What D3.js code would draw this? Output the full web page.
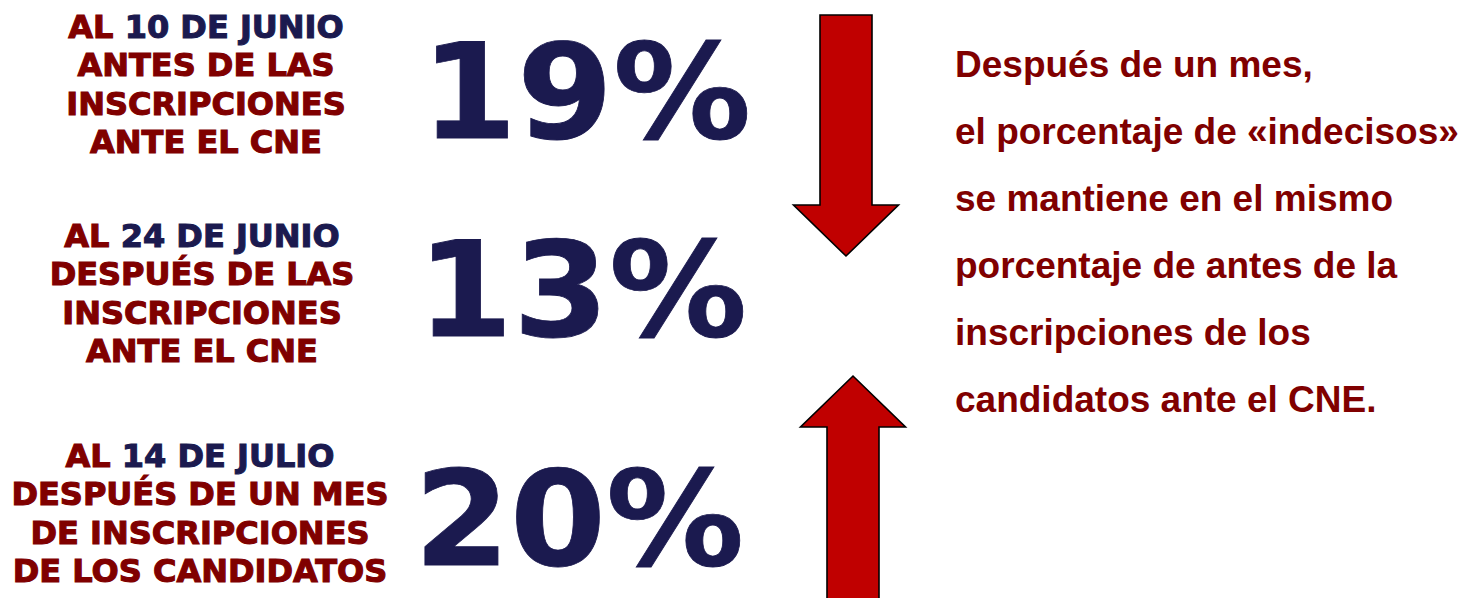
<!DOCTYPE html>
<html>
<head>
<meta charset="utf-8">
<script src="https://cdn.jsdelivr.net/npm/d3@7"></script>
<style>
  html, body { margin: 0; padding: 0; background: #ffffff; }
  svg { display: block; }
</style>
</head>
<body>
<svg id="chart" width="1462" height="598"></svg>
<script>
// ---- data ----
const dates = ["AL 10 DE JUNIO", "AL 24 DE JUNIO", "AL 14 DE JULIO"];
const descriptions = [
  ["ANTES DE LAS", "INSCRIPCIONES", "ANTE EL CNE"],
  ["DESPUÉS DE LAS", "INSCRIPCIONES", "ANTE EL CNE"],
  ["DESPUÉS DE UN MES", "DE INSCRIPCIONES", "DE LOS CANDIDATOS"]
];
const values = [19, 13, 20];
const commentary = [
  "Después de un mes,",
  "el porcentaje de «indecisos»",
  "se mantiene en el mismo",
  "porcentaje de antes de la",
  "inscripciones de los",
  "candidatos ante el CNE."
];

// ---- styles ----
const maroon = "#800000";
const navy = "#1b1a4f";
const arrowRed = "#c00000";

const svg = d3.select("#chart");

// row positions (baseline of first label line)
const rowY = d3.scaleOrdinal().domain(dates).range([38, 247, 467]);
const labelX = d3.scaleOrdinal().domain(dates).range([206, 202, 200]);
const lineStep = 38.3;

const rows = svg.selectAll("g.row")
  .data(dates.map((d, i) => ({ date: d, desc: descriptions[i], value: values[i] })))
  .join("g").attr("class", "row");

// date line: "AL" maroon, rest navy
rows.append("text")
  .attr("x", d => labelX(d.date))
  .attr("y", d => rowY(d.date))
  .attr("text-anchor", "middle")
  .attr("font-family", "DejaVu Sans")
  .attr("font-weight", "bold")
  .attr("font-size", 32)
  .attr("stroke-width", 1.1)
  .each(function (d) {
    const t = d3.select(this);
    const parts = d.date.split(" ");
    t.append("tspan").text(parts[0]).attr("fill", maroon).attr("stroke", maroon);
    t.append("tspan").text(" " + parts.slice(1).join(" ")).attr("fill", navy).attr("stroke", navy);
  });

// description lines
rows.each(function (d) {
  d3.select(this).selectAll("text.desc")
    .data(d.desc)
    .join("text")
    .attr("class", "desc")
    .attr("x", labelX(d.date))
    .attr("y", (s, j) => rowY(d.date) + (j + 1) * lineStep)
    .attr("text-anchor", "middle")
    .attr("font-family", "DejaVu Sans")
    .attr("font-weight", "bold")
    .attr("font-size", 32)
    .attr("fill", maroon)
    .attr("stroke", maroon)
    .attr("stroke-width", 1.1)
    .text(s => s);
});

// big percentages
const numOffset = d3.scaleOrdinal().domain(dates).range([100, 89, 98]);
const numX = d3.scaleOrdinal().domain(dates).range([586, 582, 579]);
rows.append("g")
  .attr("transform", d => `translate(${numX(d.date)},${rowY(d.date) + numOffset(d.date)}) scale(1.045,1)`)
  .append("text")
  .attr("x", 0)
  .attr("y", 0)
  .attr("text-anchor", "middle")
  .attr("font-family", "DejaVu Sans")
  .attr("font-weight", "bold")
  .attr("font-size", 132)
  .attr("fill", navy)
  .attr("stroke", navy)
  .attr("stroke-width", 0.8)
  .text(d => d3.format("d")(d.value) + "%");

// arrows
function arrowPath(cx, yBase, yTip, shaftHalf, headHalf, yNeck) {
  const p = d3.path();
  p.moveTo(cx - shaftHalf, yBase);
  p.lineTo(cx - shaftHalf, yNeck);
  p.lineTo(cx - headHalf, yNeck);
  p.lineTo(cx, yTip);
  p.lineTo(cx + headHalf, yNeck);
  p.lineTo(cx + shaftHalf, yNeck);
  p.lineTo(cx + shaftHalf, yBase);
  p.closePath();
  return p.toString();
}
const arrows = [
  { cx: 846, base: 15, tip: 256, neck: 205, shaft: 26, head: 52.5 },
  { cx: 853, base: 605, tip: 376, neck: 427, shaft: 26, head: 52.5 }
];
svg.selectAll("path.arrow")
  .data(arrows)
  .join("path")
  .attr("class", "arrow")
  .attr("d", a => arrowPath(a.cx, a.base, a.tip, a.shaft, a.head, a.neck))
  .attr("fill", arrowRed)
  .attr("stroke", "#000")
  .attr("stroke-width", 1.6)
  .attr("stroke-linejoin", "miter");

// commentary text
svg.selectAll("text.comment")
  .data(commentary)
  .join("text")
  .attr("class", "comment")
  .attr("x", 955)
  .attr("y", (s, i) => 77 + i * 67)
  .attr("font-family", "Liberation Sans")
  .attr("font-weight", "bold")
  .attr("font-size", 37)
  .attr("fill", maroon)
  .text(s => s);
</script>
</body>
</html>
